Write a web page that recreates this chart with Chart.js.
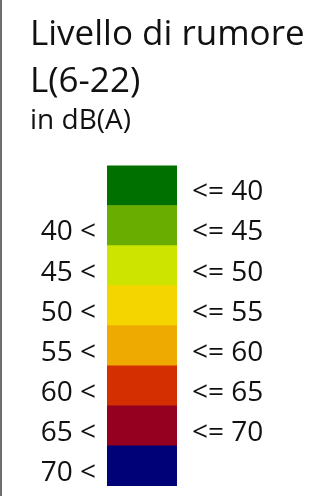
<!DOCTYPE html>
<html>
<head>
<meta charset="utf-8">
<script src="https://cdn.jsdelivr.net/npm/chart.js@4/dist/chart.umd.min.js"></script>
<style>
  html, body { margin: 0; padding: 0; background: #fff; }
  #wrap { width: 332px; height: 496px; border-left: 2px solid #6e6e6e; }
  canvas { display: block; }
</style>
</head>
<body>
<div id="wrap"><canvas id="legendChart" width="332" height="496"></canvas></div>
<script>
// noise classes, quietest first
let lowerLabels = ['', '40 <', '45 <', '50 <', '55 <', '60 <', '65 <', '70 <'];
let upperLabels = ['<= 40', '<= 45', '<= 50', '<= 55', '<= 60', '<= 65', '<= 70', ''];
let bandValues = [1, 1, 1, 1, 1, 1, 1, 1];
let bandColors = [
    '#007000',
    '#69ad00',
    '#cde400',
    '#f5d500',
    '#eeaa00',
    '#d32f00',
    '#950020',
    '#000077'
];

const fontFamily = '"Open Sans", "Noto Sans", sans-serif';

// keep the tick labels from pushing the bars in
function fixAxis(width) {
    return function(scale) {
        scale.width = width;
        scale.paddingTop = 0;
        scale.paddingBottom = 0;
    };
}

const ctx = document.getElementById('legendChart');
const legendChart = new Chart(ctx, {
    type: 'bar',
    data: {
        labels: lowerLabels,
        datasets: [
            {
                label: '',
                data: bandValues,
                backgroundColor: bandColors,
                borderWidth: 0,
                barPercentage: 1,
                categoryPercentage: 1
            }
        ]
    },
    options: {
        indexAxis: 'y',
        responsive: false,
        animation: false,
        layout: {
            padding: { left: 28, right: 0, top: 0, bottom: 10 }
        },
        plugins: {
            legend: { display: false },
            tooltip: { enabled: false },
            title: {
                display: true,
                text: ['Livello di rumore', 'L(6-22)'],
                align: 'start',
                color: '#111',
                font: { family: fontFamily, size: 35, weight: 'normal', lineHeight: 47 / 35 },
                padding: { top: 12, bottom: 0 }
            },
            subtitle: {
                display: true,
                text: 'in dB(A)',
                align: 'start',
                color: '#111',
                font: { family: fontFamily, size: 28, weight: 'normal', lineHeight: 1.05 },
                padding: { top: 0, bottom: 30 }
            }
        },
        scales: {
            x: {
                display: false,
                min: 0,
                max: 1
            },
            y: {
                type: 'category',
                position: 'left',
                offset: true,
                grid: { display: false, drawTicks: false },
                border: { display: false },
                ticks: {
                    color: '#111',
                    padding: 11,
                    labelOffset: 7,
                    font: { family: fontFamily, size: 28 }
                },
                afterFit: fixAxis(77)
            },
            yRight: {
                type: 'category',
                position: 'right',
                labels: upperLabels,
                offset: true,
                grid: { display: false, drawTicks: false },
                border: { display: false },
                ticks: {
                    color: '#111',
                    padding: 15,
                    labelOffset: 7,
                    font: { family: fontFamily, size: 28 }
                },
                afterFit: fixAxis(157)
            }
        }
    }
});
</script>
</body>
</html>
